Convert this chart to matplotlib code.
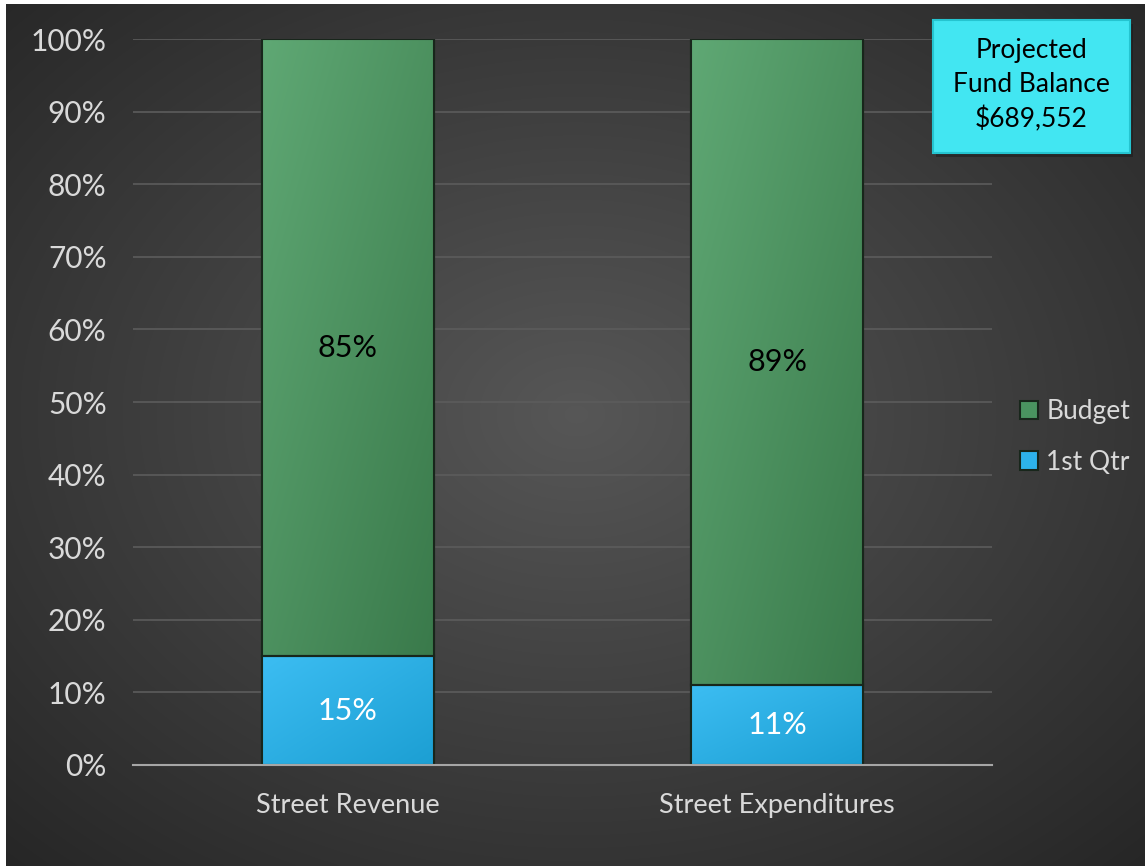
import numpy as np
import matplotlib
matplotlib.use("Agg")
import matplotlib.pyplot as plt
from matplotlib.patches import Rectangle
from matplotlib.colors import to_rgb

categories = ["Street Revenue", "Street Expenditures"]
qtr1 = [15, 11]
budget = [85, 89]
series_names = ["Budget", "1st Qtr"]
yticks = [0, 10, 20, 30, 40, 50, 60, 70, 80, 90, 100]
box_text = "Projected\nFund Balance\n$689,552"

W, H = 1145, 866
fig = plt.figure(figsize=(W / 100, H / 100), dpi=100)
fig.patch.set_facecolor("white")

# background radial gradient
bg = fig.add_axes([6 / W, 0, 1 - 6 / W, 1 - 4 / H])
bg.set_axis_off()
yy, xx = np.mgrid[0:400, 0:530]
cx, cy = 265, 190
r = np.sqrt(((xx - cx) / 530) ** 2 + ((yy - cy) / 400) ** 2)
r = r / r.max()
v = 0.34 - 0.19 * r
img = np.dstack([v, v, v])
bg.imshow(img, aspect="auto", extent=[0, 1, 0, 1], interpolation="bilinear")
bg.set_xlim(0, 1)
bg.set_ylim(0, 1)

ax = fig.add_axes([133 / W, 1 - 765 / H, (992 - 133) / W, (765 - 39) / H])
ax.patch.set_alpha(0)
x = np.arange(len(categories))
width = 0.4
green = "#4a9460"
blue = "#2db3ea"
edge = "#18261b"
b1 = ax.bar(x, qtr1, width, color=blue, edgecolor=edge, linewidth=1.5, zorder=3, label=series_names[1])
b2 = ax.bar(x, budget, width, bottom=qtr1, color=green, edgecolor=edge, linewidth=1.5, zorder=3, label=series_names[0])

def grad_fill(patch, c1, c2):
    bx, by = patch.get_x(), patch.get_y()
    bw, bh = patch.get_width(), patch.get_height()
    gy, gx = np.mgrid[0:60, 0:60] / 59.0
    t = (gx + gy) / 2.0  # row 0 = top: 0 at top-left, 1 at bottom-right
    a, b = np.array(to_rgb(c1)), np.array(to_rgb(c2))
    im = a[None, None, :] * (1 - t[..., None]) + b[None, None, :] * t[..., None]
    art = ax.imshow(im, extent=[bx, bx + bw, by, by + bh], aspect="auto",
                    interpolation="bilinear", zorder=3.5, origin="upper")
    art.set_clip_path(patch)

for p in b2:
    grad_fill(p, "#5fa874", "#3a7a4b")
for p in b1:
    grad_fill(p, "#3cbdf2", "#1c9fd3")
for p in list(b1) + list(b2):
    ax.add_patch(Rectangle((p.get_x(), p.get_y()), p.get_width(), p.get_height(),
                           facecolor="none", edgecolor=edge, linewidth=1.5, zorder=3.8))

font = "Lato"
for i in range(len(categories)):
    ax.text(x[i], qtr1[i] / 2, f"{qtr1[i]}%", ha="center", va="center", color="white",
            fontsize=22, family=font, zorder=5)
    ax.text(x[i], qtr1[i] + budget[i] / 2, f"{budget[i]}%", ha="center", va="center", color="black",
            fontsize=22, family=font, zorder=5)

ax.set_xlim(-0.5, 1.5)
ax.set_ylim(0, 100)
ax.set_yticks(yticks)
ax.set_yticklabels([f"{t}%" for t in yticks], family=font, fontsize=21.5, color="#d9d9d9")
ax.set_xticks(x)
ax.set_xticklabels(categories, family=font, fontsize=19.5, color="#d9d9d9")
ax.tick_params(axis="both", length=0)
ax.tick_params(axis="y", pad=19)
ax.tick_params(axis="x", pad=20)
for s in ["top", "right", "left"]:
    ax.spines[s].set_visible(False)
ax.spines["bottom"].set_color("#a6a6a6")
ax.spines["bottom"].set_linewidth(1.5)
ax.spines["bottom"].set_zorder(4)
ax.yaxis.grid(True, color="#5c5c5c", linewidth=1.2, zorder=0)
ax.set_axisbelow(True)

handles = [b2, b1]
leg = fig.legend(handles, series_names, loc="center left", bbox_to_anchor=(1020 / W, 1 - 437 / H),
                 frameon=False, prop={"family": font, "size": 19}, labelcolor="#d9d9d9",
                 handlelength=0.7, handleheight=0.7, handletextpad=0.3, labelspacing=0.95,
                 borderpad=0, borderaxespad=0)

# text box
fig.patches.append(Rectangle((936 / W, 1 - 157 / H), 197 / W, 133 / H, transform=fig.transFigure,
                             facecolor="#1a1a1a", alpha=0.5, edgecolor="none", zorder=9))
fig.patches.append(Rectangle((933 / W, 1 - 153 / H), 197 / W, 133 / H, transform=fig.transFigure,
                             facecolor="#42e6f2", edgecolor="#25c4d0", linewidth=1.5, zorder=10))
fig.text((933 + 197 / 2) / W, 1 - 85 / H, box_text, ha="center", va="center", fontsize=19,
         family=font, color="black", linespacing=1.45, zorder=11)

fig.savefig("out.png", dpi=100, facecolor=fig.get_facecolor())
